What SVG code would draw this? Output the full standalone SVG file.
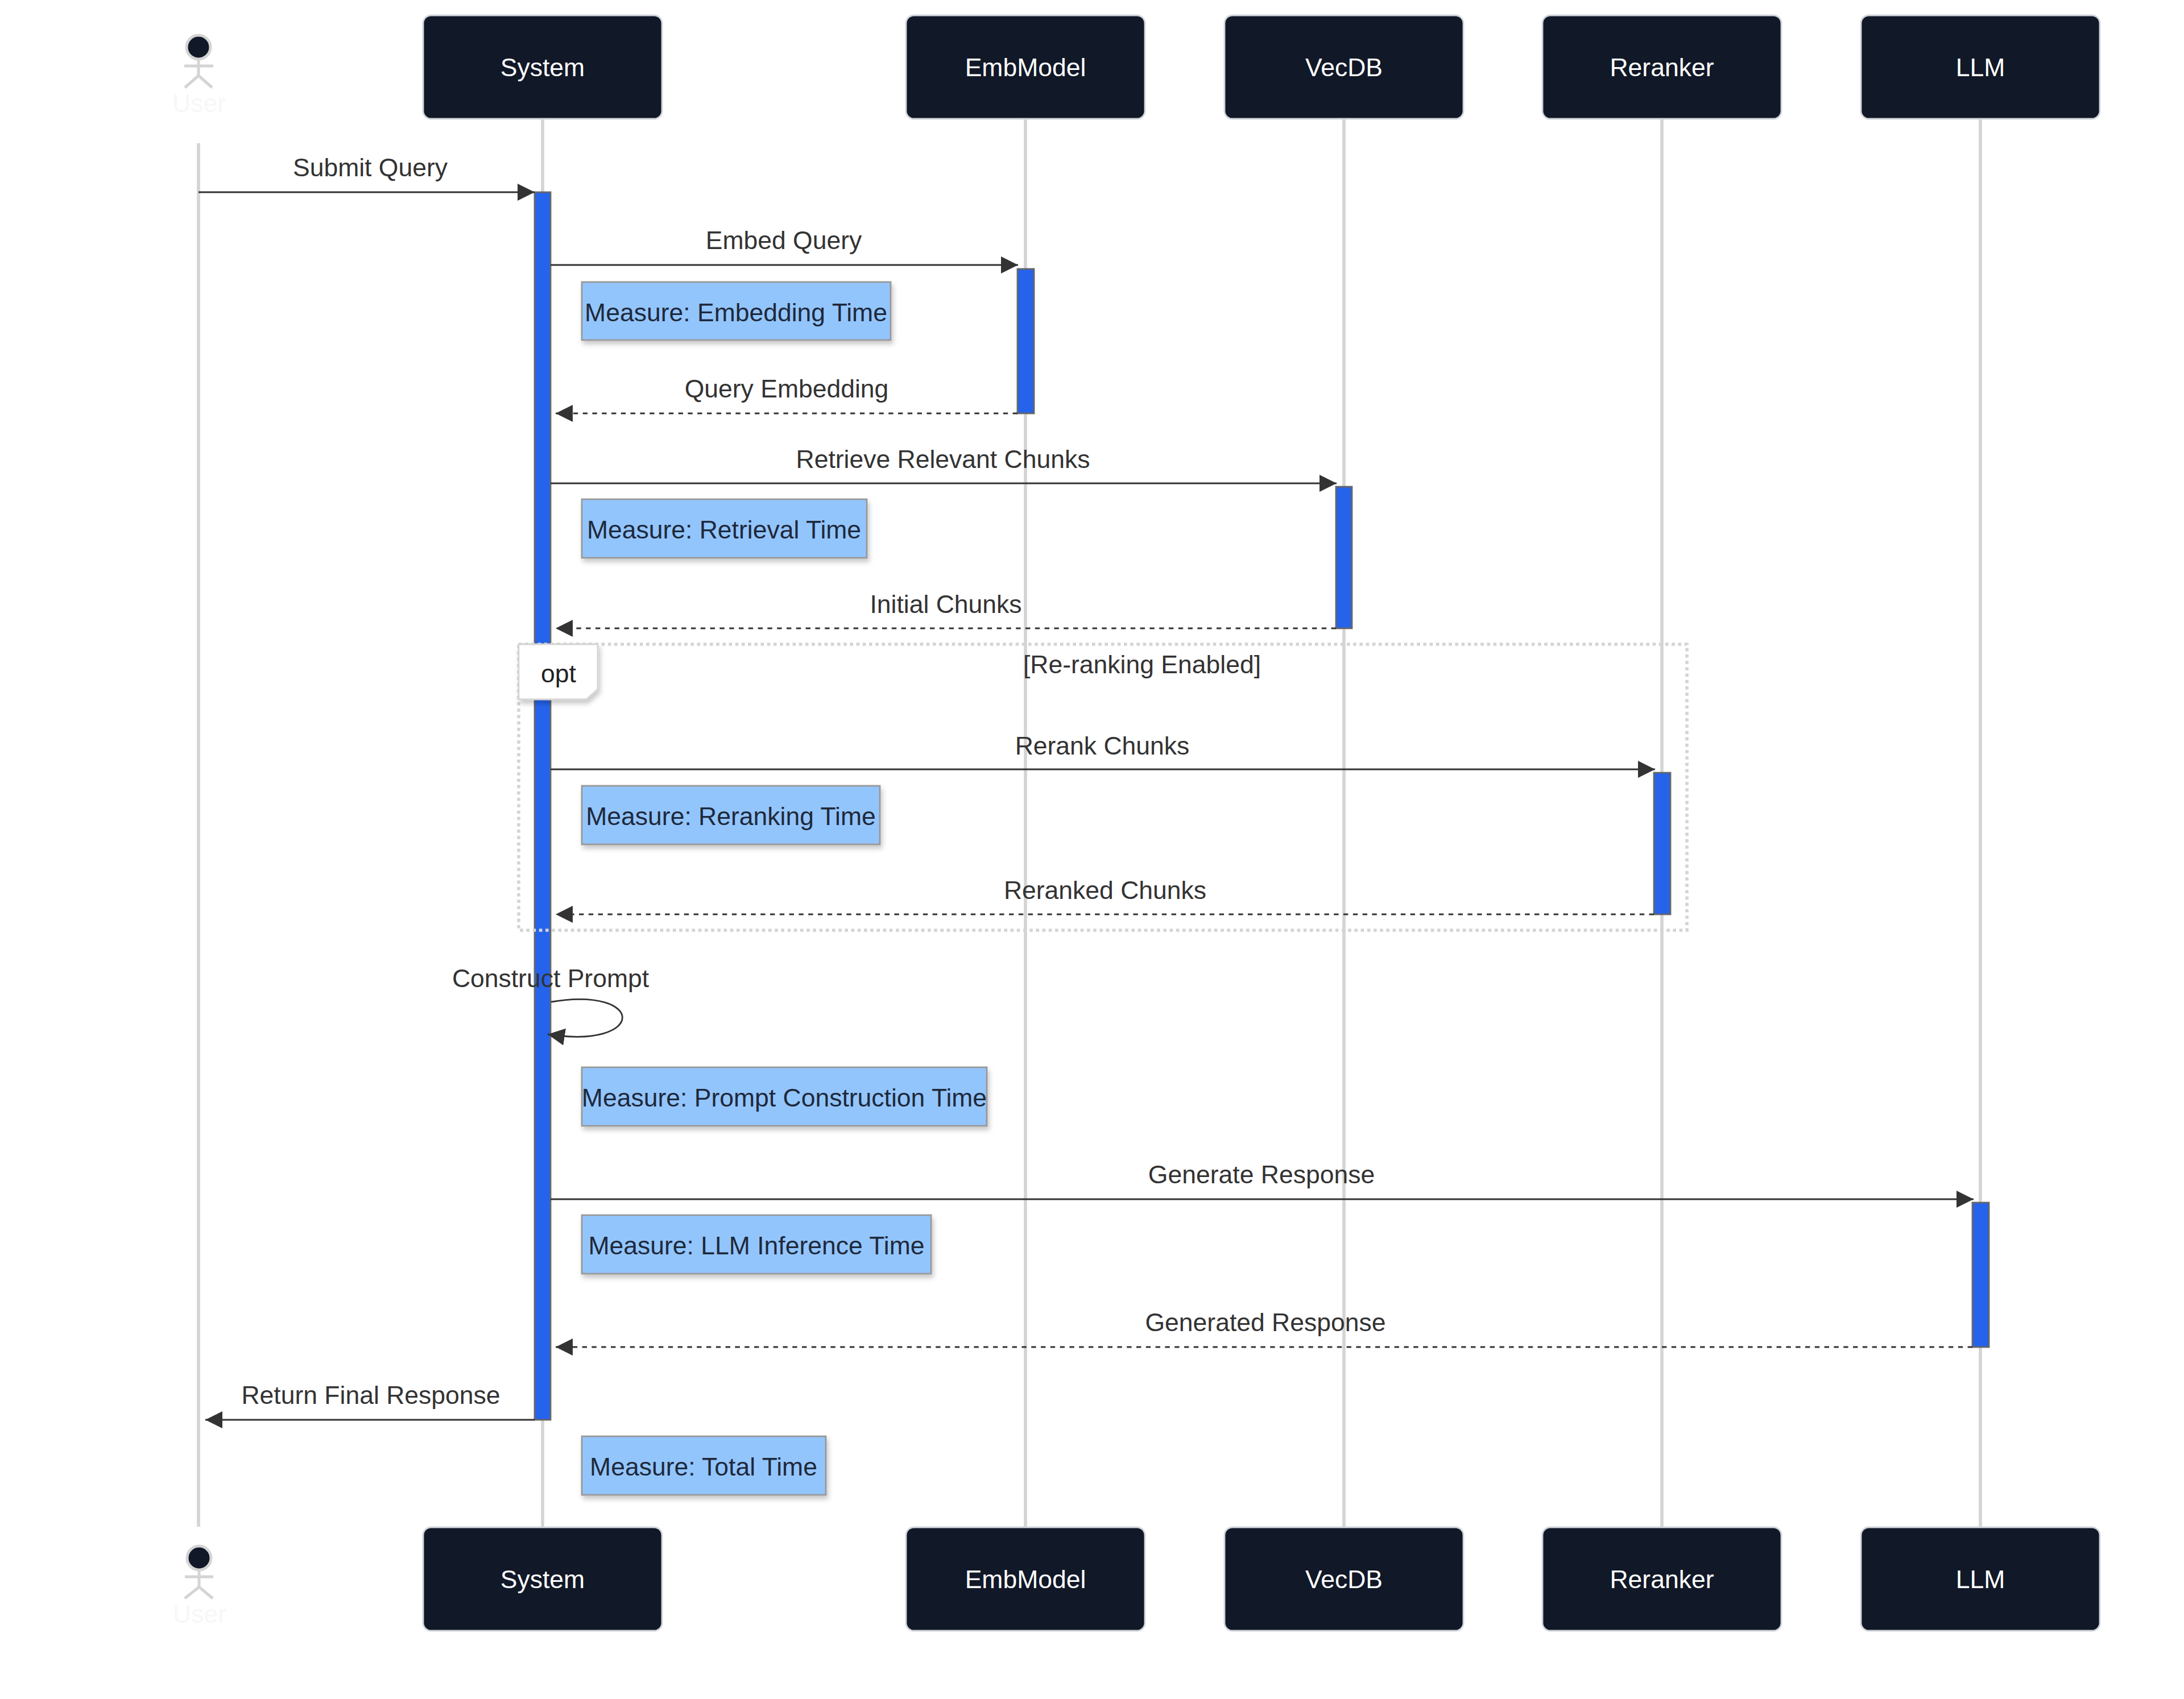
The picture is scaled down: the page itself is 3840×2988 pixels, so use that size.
<svg xmlns="http://www.w3.org/2000/svg" width="3840" height="2988" viewBox="0 0 3840 2988">
<style>
text { font-family: "Liberation Sans", Arial, Helvetica, sans-serif; font-size: 44.5px; text-anchor: middle; }
.actor rect { fill: #111827; stroke: #d1d5db; stroke-width: 2.8; }
.actor text { fill: #ffffff; }
.stick { stroke: #d4d4d4; stroke-width: 5; fill: none; }
.stick circle { fill: #111827; }
.stick text { fill: #f6f7f9; stroke: none; }
.lifeline { stroke: #d4d4d4; stroke-width: 5.6; }
.act { fill: #2563eb; stroke: #666666; stroke-width: 2.8; }
.msg { stroke: #333333; stroke-width: 2.8; fill: none; marker-end: url(#arrow); }
.dash { stroke-dasharray: 8.4 8.4; }
.msg-text { fill: #333333; }
.note rect { fill: #93c5fd; stroke: #999999; stroke-width: 2.8; filter: url(#shadow); }
.note text { fill: #1e293b; }
.loop { fill: none; stroke: #d4d4d4; stroke-width: 5.6; stroke-dasharray: 5.6 5.6; }
.loop-label { fill: #ffffff; stroke: #d4d4d4; stroke-width: 2.8; filter: url(#shadow); }
</style>
<defs>
<marker id="arrow" markerUnits="userSpaceOnUse" markerWidth="30" markerHeight="30" viewBox="0 0 30 30" refX="30" refY="15" orient="auto">
<path d="M0,0 L30,15 L0,30 z" fill="#333333"/>
</marker>
<filter id="shadow" x="-10%" y="-20%" width="130%" height="160%">
<feDropShadow dx="3" dy="6" stdDeviation="4" flood-color="#000000" flood-opacity="0.22"/>
</filter>
</defs>
<rect x="0" y="0" width="3840" height="2988" fill="#ffffff"/>

<g id="lifelines">
<line class="lifeline" x1="349" y1="252" x2="349" y2="2685"/>
<line class="lifeline" x1="954" y1="209" x2="954" y2="2686"/>
<line class="lifeline" x1="1803" y1="209" x2="1803" y2="2686"/>
<line class="lifeline" x1="2363" y1="209" x2="2363" y2="2686"/>
<line class="lifeline" x1="2922" y1="209" x2="2922" y2="2686"/>
<line class="lifeline" x1="3482" y1="209" x2="3482" y2="2686"/>
</g>

<g id="actor-user-top" class="stick">
<circle cx="349" cy="83" r="21"/>
<line x1="349" y1="104" x2="349" y2="133"/>
<line x1="324" y1="116" x2="375" y2="116"/>
<line x1="349" y1="133" x2="325" y2="154"/>
<line x1="349" y1="133" x2="373" y2="154"/>
<text x="350" y="197">User</text>
</g>
<g id="actor-system-top" class="actor"><rect x="744" y="27" width="420" height="182" rx="14"/><text x="954" y="134">System</text></g>
<g id="actor-embmodel-top" class="actor"><rect x="1593" y="27" width="420" height="182" rx="14"/><text x="1803" y="134">EmbModel</text></g>
<g id="actor-vecdb-top" class="actor"><rect x="2153" y="27" width="420" height="182" rx="14"/><text x="2363" y="134">VecDB</text></g>
<g id="actor-reranker-top" class="actor"><rect x="2712" y="27" width="420" height="182" rx="14"/><text x="2922" y="134">Reranker</text></g>
<g id="actor-llm-top" class="actor"><rect x="3272" y="27" width="420" height="182" rx="14"/><text x="3482" y="134">LLM</text></g>

<g id="activations">
<rect class="act" x="940" y="338" width="28" height="2159"/>
<rect class="act" x="1789" y="473" width="29" height="254"/>
<rect class="act" x="2349" y="856" width="28" height="249"/>
<rect class="act" x="2908" y="1359" width="29" height="249"/>
<rect class="act" x="3468" y="2115" width="29" height="254"/>
</g>

<g id="opt-block">
<rect class="loop" x="912" y="1133" width="2054" height="503"/>
<polygon class="loop-label" points="912,1133 1051,1133 1051,1212 1031,1230 912,1230"/>
<text x="982" y="1200" fill="#222222">opt</text>
<text x="2008" y="1184" fill="#333333">[Re-ranking Enabled]</text>
</g>

<g id="connectors">
<line class="msg" x1="349" y1="338" x2="940" y2="338"/>
<line class="msg" x1="968" y1="466" x2="1790" y2="466"/>
<line class="msg dash" x1="1789" y1="727" x2="977" y2="727"/>
<line class="msg" x1="968" y1="850" x2="2350" y2="850"/>
<line class="msg dash" x1="2349" y1="1105" x2="977" y2="1105"/>
<line class="msg" x1="968" y1="1353" x2="2910" y2="1353"/>
<line class="msg dash" x1="2908" y1="1608" x2="977" y2="1608"/>
<path class="msg" d="M969,1762 C1137,1734 1137,1846 963,1819"/>
<line class="msg" x1="968" y1="2109" x2="3470" y2="2109"/>
<line class="msg dash" x1="3468" y1="2369" x2="977" y2="2369"/>
<line class="msg" x1="940" y1="2497" x2="361" y2="2497"/>
</g>

<g id="message-labels" class="msg-text">
<text class="msg-text" x="651" y="310">Submit Query</text>
<text class="msg-text" x="1378" y="438">Embed Query</text>
<text class="msg-text" x="1383" y="699">Query Embedding</text>
<text class="msg-text" x="1658" y="823">Retrieve Relevant Chunks</text>
<text class="msg-text" x="1663" y="1078">Initial Chunks</text>
<text class="msg-text" x="1938" y="1327">Rerank Chunks</text>
<text class="msg-text" x="1943" y="1581">Reranked Chunks</text>
<text class="msg-text" x="968" y="1736">Construct Prompt</text>
<text class="msg-text" x="2218" y="2081">Generate Response</text>
<text class="msg-text" x="2225" y="2341">Generated Response</text>
<text class="msg-text" x="652" y="2469">Return Final Response</text>
</g>

<g id="note-embedding" class="note"><rect x="1023" y="496" width="543" height="102"/><text x="1294" y="565">Measure: Embedding Time</text></g>
<g id="note-retrieval" class="note"><rect x="1023" y="878" width="501" height="103"/><text x="1273" y="947">Measure: Retrieval Time</text></g>
<g id="note-reranking" class="note"><rect x="1023" y="1382" width="524" height="103"/><text x="1285" y="1451">Measure: Reranking Time</text></g>
<g id="note-prompt" class="note"><rect x="1023" y="1877" width="712" height="103"/><text x="1379" y="1946">Measure: Prompt Construction Time</text></g>
<g id="note-llm" class="note"><rect x="1023" y="2137" width="614" height="103"/><text x="1330" y="2206">Measure: LLM Inference Time</text></g>
<g id="note-total" class="note"><rect x="1023" y="2526" width="429" height="103"/><text x="1237" y="2595">Measure: Total Time</text></g>

<g id="actor-user-bottom" class="stick">
<circle cx="350" cy="2740" r="21"/>
<line x1="350" y1="2761" x2="350" y2="2791"/>
<line x1="325" y1="2773" x2="375" y2="2773"/>
<line x1="350" y1="2791" x2="325" y2="2811"/>
<line x1="350" y1="2791" x2="374" y2="2811"/>
<text x="351" y="2854">User</text>
</g>
<g id="actor-system-bottom" class="actor"><rect x="744" y="2686" width="420" height="182" rx="14"/><text x="954" y="2793">System</text></g>
<g id="actor-embmodel-bottom" class="actor"><rect x="1593" y="2686" width="420" height="182" rx="14"/><text x="1803" y="2793">EmbModel</text></g>
<g id="actor-vecdb-bottom" class="actor"><rect x="2153" y="2686" width="420" height="182" rx="14"/><text x="2363" y="2793">VecDB</text></g>
<g id="actor-reranker-bottom" class="actor"><rect x="2712" y="2686" width="420" height="182" rx="14"/><text x="2922" y="2793">Reranker</text></g>
<g id="actor-llm-bottom" class="actor"><rect x="3272" y="2686" width="420" height="182" rx="14"/><text x="3482" y="2793">LLM</text></g>
</svg>
